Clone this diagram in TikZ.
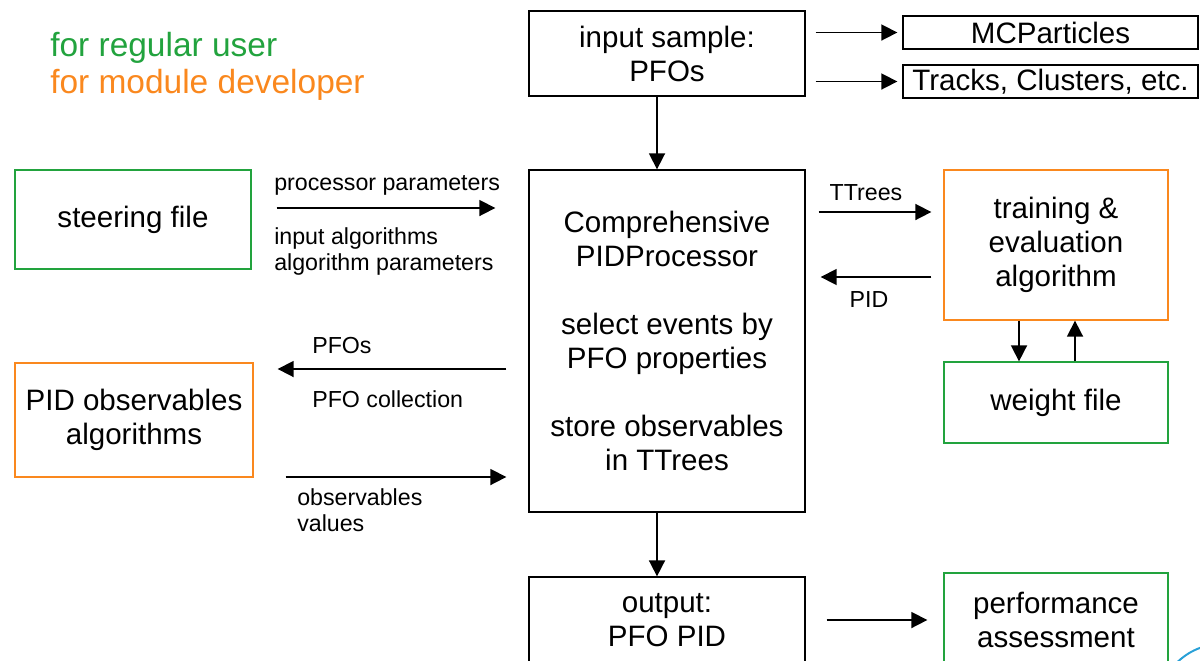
\documentclass[tikz,border=0pt]{standalone}
\usepackage{fontspec}
\setmainfont{Liberation Sans}
\usepackage{xcolor}
\usepackage{tikz}
\usetikzlibrary{arrows.meta,positioning,calc}
\definecolor{usrgreen}{RGB}{34,163,62}
\definecolor{devorange}{RGB}{250,136,30}
\definecolor{logoblue}{RGB}{40,160,215}
\tikzstyle{arr}      =[-{Triangle[length=11.4pt,width=11.4pt]}, line width=1.2pt]
\tikzstyle{blk}      =[draw, line width=0.9pt, inner sep=0pt, align=center, font=\fontsize{21}{24.2}\selectfont]
\tikzstyle{usrbox}   =[blk, draw=usrgreen]
\tikzstyle{devbox}   =[blk, draw=devorange]
\tikzstyle{lbl}      =[inner sep=0pt, align=left, font=\fontsize{16.5}{18.5}\selectfont]

\begin{document}
\begin{tikzpicture}[x=0.025cm, y=-0.025cm]

  \useasboundingbox (0,0) rectangle (1200,660);
  \clip (0,0) rectangle (1200,660);

  % legend
  \node[anchor=west, inner sep=0pt, align=left, font=\fontsize{23.8}{26.3}\selectfont] (legend) at (50,66)
       {\textcolor{usrgreen}{for regular user}\\\textcolor{devorange}{for module developer}};

  % blocks
  \node[blk, minimum width=6.9cm, minimum height=2.125cm] (inp) at (667,53.5) {input sample:\\PFOs};
  \node[blk, minimum width=7.375cm, minimum height=0.825cm] (mcp) at (1050.5,32.5) {MCParticles};
  \node[blk, minimum width=7.375cm, minimum height=0.825cm] (trk) at (1050.5,81.5) {Tracks, Clusters, etc.};
  \node[blk, minimum width=6.9cm, minimum height=8.55cm] (proc) at (667,341)
       {Comprehensive\\PIDProcessor\\[24.2pt]select events by\\PFO properties\\[24.2pt]store observables\\in TTrees};
  \node[blk, minimum width=6.9cm, minimum height=2.15cm] (out) at (667,620) {output:\\PFO PID};
  \node[usrbox, minimum width=5.6cm, minimum height=2.35cm] (perf) at (1056,620) {performance\\assessment};
  \node[usrbox, minimum width=5.9cm, minimum height=2.475cm] (steer) at (133,219.5) {steering file};
  \node[devbox, minimum width=5.95cm, minimum height=2.85cm] (pidobs) at (134,420) {PID observables\\algorithms};
  \node[devbox, minimum width=5.6cm, minimum height=3.75cm] (train) at (1056,245) {training \&\\evaluation\\algorithm};
  \node[usrbox, minimum width=5.6cm, minimum height=2.025cm] (wgt) at (1056,402.5) {weight file};

  % arrows
  \draw[arr, shorten <=2.5mm, shorten >=1.25mm] (inp.east |- mcp.west) -- (mcp.west);
  \draw[arr, shorten <=2.5mm, shorten >=1.25mm] (inp.east |- trk.west) -- (trk.west);
  \draw[arr] ($(inp.south)+(-10,0)$) -- ($(proc.north)+(-10,0)$);
  \draw[arr] ($(proc.south)+(-10,0)$) -- ($(out.north)+(-10,0)$);
  \draw[arr, shorten <=5.25mm, shorten >=4mm] (out.east) -- (perf.west);
  \draw[arr, shorten <=6.25mm, shorten >=8.25mm] (steer.east |- 0,208) -- (proc.west |- 0,208);
  \draw[arr, shorten <=5.5mm, shorten >=6mm] (proc.west |- 0,369) -- (pidobs.east |- 0,369);
  \draw[arr, shorten <=8mm, shorten >=5.5mm] (pidobs.east |- 0,477) -- (proc.west |- 0,477);
  \draw[arr, shorten <=3.25mm, shorten >=3mm] (proc.east |- 0,212) -- (train.west |- 0,212);
  \draw[arr, shorten <=3mm, shorten >=3.75mm] (train.west |- 0,277) -- (proc.east |- 0,277);
  \draw[arr] (train.south -| 1019,0) -- (wgt.north -| 1019,0);
  \draw[arr] (wgt.north -| 1075,0) -- (train.south -| 1075,0);

  % labels on arrows
  \node[lbl, anchor=west] (lpar) at (274,185) {processor parameters};
  \node[lbl, anchor=west] (lalg) at (274,251) {input algorithms\\algorithm parameters};
  \node[lbl, anchor=west] (lpfo) at (312,346) {PFOs};
  \node[lbl, anchor=west] (lcol) at (312,399) {PFO collection};
  \node[lbl, anchor=west] (lobs) at (297,510) {observables\\values};
  \node[lbl] (ltt) at (866,193) {TTrees};
  \node[lbl] (lpid) at (869,300) {PID};

  % cut logo in the corner
  \draw[logoblue, line width=1.4pt] (1222,708) circle (64);

\end{tikzpicture}
\end{document}
